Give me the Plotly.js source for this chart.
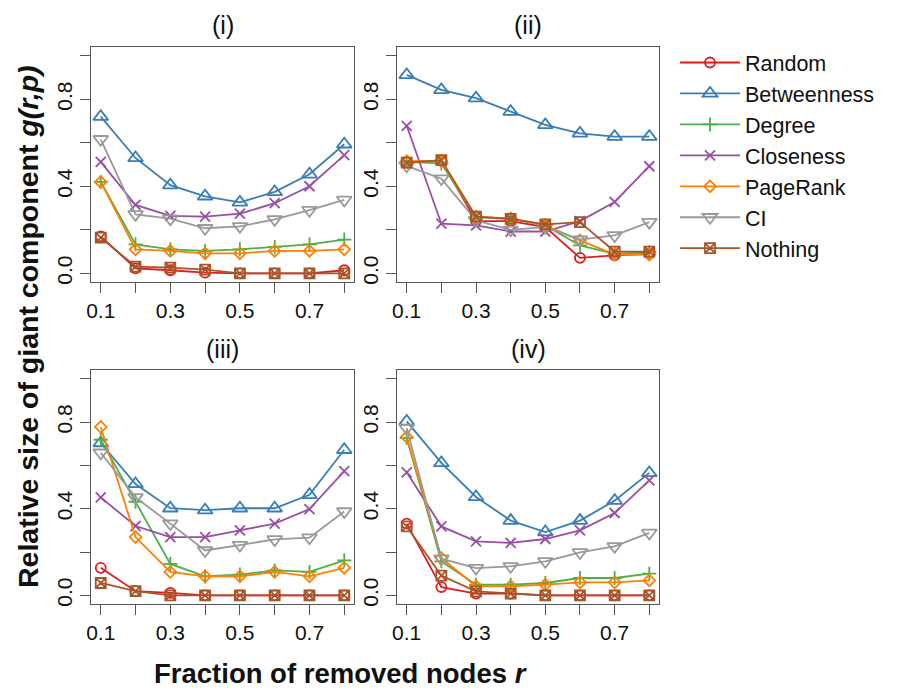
<!DOCTYPE html>
<html>
<head>
<meta charset="utf-8">
<script src="https://cdn.plot.ly/plotly-3.0.1.min.js"></script>
<style>html,body{margin:0;padding:0;background:#fff;}#chart{width:902px;height:690px;}</style>
</head>
<body>
<div id="chart"></div>
<script>
// ---- data ----
const r = [0.1, 0.2, 0.3, 0.4, 0.5, 0.6, 0.7, 0.8];
const methods = ["Random", "Betweenness", "Degree", "Closeness", "PageRank", "CI", "Nothing"];
const panelTitles = ["(i)", "(ii)", "(iii)", "(iv)"];
const xTickVals = [0.1, 0.2, 0.3, 0.4, 0.5, 0.6, 0.7, 0.8];
const xTickText = ["0.1", "", "0.3", "", "0.5", "", "0.7", ""];
const yTickVals = [0, 0.2, 0.4, 0.6, 0.8, 1.0];
const yTickText = ["0.0", "", "0.4", "", "0.8", ""];

// panel (i)
const p1_random      = [0.17, 0.023, 0.014, 0.003, 0, 0, 0, 0.014];
const p1_betweenness = [0.72, 0.53, 0.405, 0.354, 0.326, 0.374, 0.455, 0.593];
const p1_degree      = [0.42, 0.133, 0.11, 0.103, 0.11, 0.121, 0.133, 0.155];
const p1_closeness   = [0.512, 0.314, 0.264, 0.26, 0.274, 0.322, 0.40, 0.543];
const p1_pagerank    = [0.42, 0.11, 0.103, 0.092, 0.092, 0.103, 0.103, 0.11];
const p1_ci          = [0.616, 0.271, 0.251, 0.207, 0.216, 0.248, 0.29, 0.337];
const p1_nothing     = [0.164, 0.031, 0.026, 0.017, 0, 0, 0, 0];

// panel (ii)
const p2_random      = [0.512, 0.517, 0.24, 0.24, 0.212, 0.071, 0.082, 0.089];
const p2_betweenness = [0.912, 0.843, 0.805, 0.743, 0.682, 0.643, 0.628, 0.628];
const p2_degree      = [0.512, 0.505, 0.258, 0.25, 0.22, 0.128, 0.089, 0.097];
const p2_closeness   = [0.678, 0.228, 0.22, 0.192, 0.192, 0.24, 0.328, 0.492];
const p2_pagerank    = [0.515, 0.515, 0.26, 0.252, 0.22, 0.151, 0.086, 0.086];
const p2_ci          = [0.494, 0.435, 0.243, 0.2, 0.212, 0.155, 0.174, 0.235];
const p2_nothing     = [0.509, 0.52, 0.26, 0.25, 0.225, 0.235, 0.1, 0.1];

// panel (iii)
const p3_random      = [0.127, 0.019, 0.011, 0, 0, 0, 0, 0];
const p3_betweenness = [0.703, 0.514, 0.402, 0.393, 0.402, 0.402, 0.464, 0.672];
const p3_degree      = [0.718, 0.432, 0.145, 0.088, 0.096, 0.115, 0.108, 0.161];
const p3_closeness   = [0.452, 0.32, 0.269, 0.269, 0.30, 0.331, 0.398, 0.573];
const p3_pagerank    = [0.777, 0.269, 0.108, 0.088, 0.088, 0.108, 0.088, 0.127];
const p3_ci          = [0.658, 0.452, 0.331, 0.207, 0.232, 0.258, 0.266, 0.387];
const p3_nothing     = [0.057, 0.019, 0, 0, 0, 0, 0, 0];

// panel (iv)
const p4_random      = [0.331, 0.038, 0.008, 0.008, 0, 0, 0, 0];
const p4_betweenness = [0.803, 0.611, 0.454, 0.345, 0.292, 0.345, 0.437, 0.565];
const p4_degree      = [0.726, 0.157, 0.049, 0.049, 0.057, 0.08, 0.08, 0.10];
const p4_closeness   = [0.568, 0.318, 0.249, 0.242, 0.26, 0.30, 0.38, 0.531];
const p4_pagerank    = [0.731, 0.172, 0.042, 0.042, 0.049, 0.06, 0.06, 0.069];
const p4_ci          = [0.772, 0.169, 0.126, 0.134, 0.157, 0.198, 0.226, 0.288];
const p4_nothing     = [0.318, 0.091, 0.018, 0.008, 0, 0, 0, 0];

const panels = [
  [p1_random, p1_betweenness, p1_degree, p1_closeness, p1_pagerank, p1_ci, p1_nothing],
  [p2_random, p2_betweenness, p2_degree, p2_closeness, p2_pagerank, p2_ci, p2_nothing],
  [p3_random, p3_betweenness, p3_degree, p3_closeness, p3_pagerank, p3_ci, p3_nothing],
  [p4_random, p4_betweenness, p4_degree, p4_closeness, p4_pagerank, p4_ci, p4_nothing]
];

// ---- styles ----
const colors = ["#E41A1C", "#377EB8", "#4DAF4A", "#984EA3", "#FF7F00", "#999999", "#A65628"];
const symbols = ["circle-open", "triangle-up-open", "cross-thin-open", "x-thin-open", "diamond-open", "triangle-down-open", "square-x-open"];
const sizes = [10, 13, 10, 10, 9, 13, 10];

const W = 902, H = 690;
const colX = [[91, 354], [397, 659]];
const rowY = [[47, 282], [370, 604]];

const traces = [];
panels.forEach((series, pi) => {
  const ax = pi === 0 ? "" : String(pi + 1);
  series.forEach((vals, mi) => {
    traces.push({
      type: "scatter", mode: "lines+markers",
      x: r, y: vals,
      xaxis: "x" + ax, yaxis: "y" + ax,
      name: methods[mi], legendgroup: methods[mi], showlegend: pi === 0,
      line: {color: colors[mi], width: 1.8},
      marker: {symbol: symbols[mi], size: sizes[mi], color: colors[mi], line: {color: colors[mi], width: 1.8}},
      cliponaxis: false
    });
  });
});

const layout = {
  width: W, height: H,
  margin: {l: 0, r: 0, t: 0, b: 0},
  paper_bgcolor: "#fff", plot_bgcolor: "#fff",
  font: {family: "Liberation Sans, Arial, sans-serif", color: "#111"},
  showlegend: true,
  legend: {
    x: 675 / W, xanchor: "left", y: 1 - 42 / H, yanchor: "top",
    font: {size: 21.5, color: "#111"}, bgcolor: "rgba(0,0,0,0)", borderwidth: 0,
    tracegroupgap: 0, itemwidth: 60
  },
  annotations: [],
  hovermode: false
};

for (let pi = 0; pi < 4; pi++) {
  const ax = pi === 0 ? "" : String(pi + 1);
  const c = colX[pi % 2], rr = rowY[Math.floor(pi / 2)];
  const common = {
    showline: true, mirror: true, linecolor: "#555", linewidth: 1,
    ticks: "outside", ticklen: 10, tickwidth: 1, tickcolor: "#555",
    showgrid: false, zeroline: false,
    tickfont: {size: 21, color: "#111"}, fixedrange: true
  };
  layout["xaxis" + ax] = Object.assign({}, common, {
    domain: [c[0] / W, c[1] / W], anchor: "y" + ax,
    range: [0.072, 0.828], tickmode: "array", tickvals: xTickVals, ticktext: xTickText
  });
  layout["yaxis" + ax] = Object.assign({}, common, {
    domain: [1 - rr[1] / H, 1 - rr[0] / H], anchor: "x" + ax,
    range: [-0.04, 1.04], tickmode: "array", tickvals: yTickVals, ticktext: yTickText,
    tickangle: -90
  });
  layout.annotations.push({
    text: panelTitles[pi], xref: "paper", yref: "paper",
    x: (c[0] + c[1]) / 2 / W, y: 1 - (pi < 2 ? 25 : 349) / H,
    xanchor: "center", yanchor: "middle", showarrow: false,
    font: {size: 25, color: "#111"}
  });
}

layout.annotations.push({
  text: "<b>Fraction of removed nodes <i>r</i></b>", xref: "paper", yref: "paper",
  x: 340 / W, y: 1 - 673 / H, xanchor: "center", yanchor: "middle", showarrow: false,
  font: {size: 27.5, color: "#111"}
});
layout.annotations.push({
  text: "<b>Relative size of giant component <i>g(r,p)</i></b>", xref: "paper", yref: "paper",
  x: 28 / W, y: 1 - 327 / H, xanchor: "center", yanchor: "middle", showarrow: false,
  textangle: -90, font: {size: 28.5, color: "#111"}
});

Plotly.newPlot("chart", traces, layout, {displayModeBar: false, staticPlot: true});
</script>
</body>
</html>
